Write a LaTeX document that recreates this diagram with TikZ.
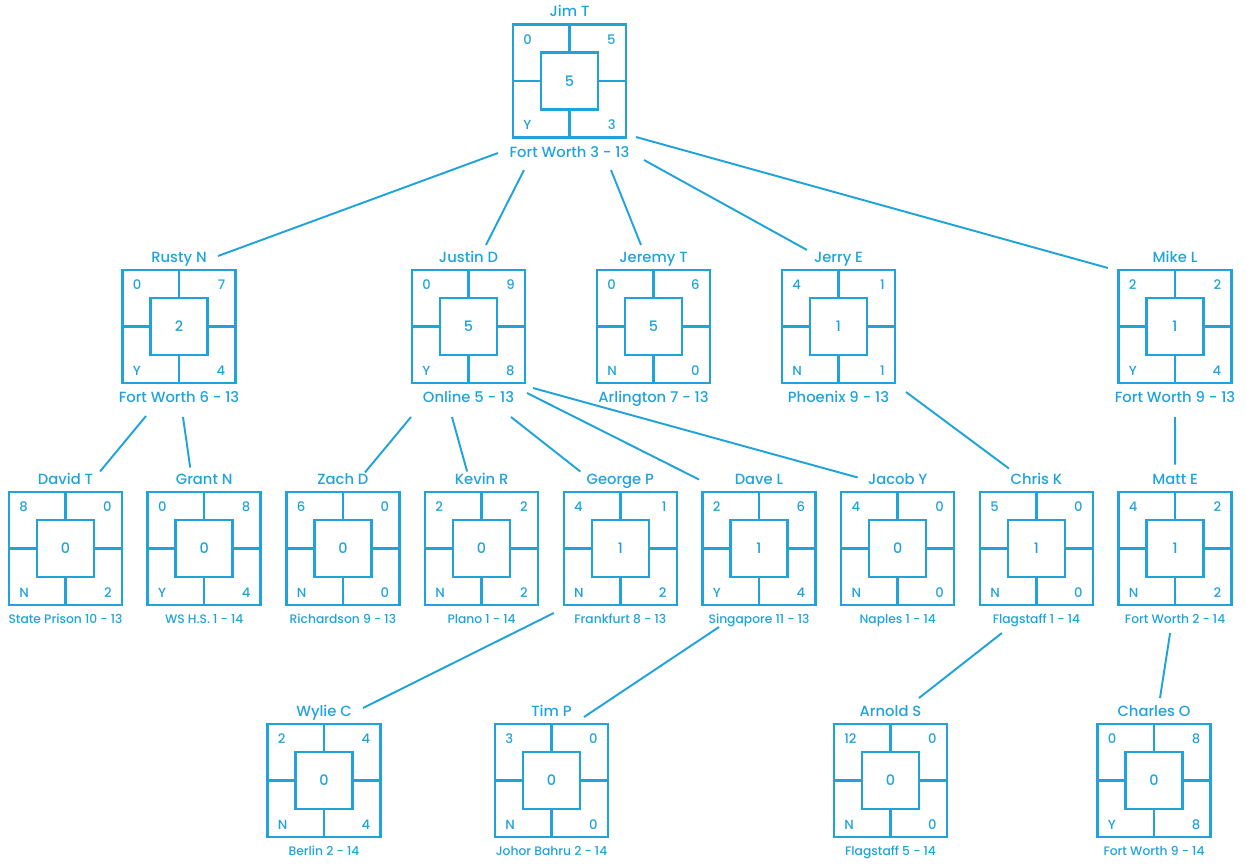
\documentclass[tikz,border=0pt]{standalone}
\usepackage{fontspec}
\newfontfamily\pfont{Poppins Medium}
\definecolor{treeblue}{RGB}{32,163,218}

% one player: id, position, name, place, corners (tl,tr,bl,br), middle
\newcommand{\player}[9]{%
  \node[outer] (#1) at (#2) {};
  \node[inner] (#1-c) at (#1.center) {#9};
  \draw[boxline] (#1.north)--(#1-c.north) (#1.south)--(#1-c.south)
                 (#1.west)--(#1-c.west) (#1.east)--(#1-c.east);
  \node[corner,anchor=west] at ([shift={(10,15)}]#1.north west) {#5};
  \node[corner,anchor=east] at ([shift={(-10,15)}]#1.north east) {#6};
  \node[corner,anchor=west] at ([shift={(10,-12.5)}]#1.south west) {#7};
  \node[corner,anchor=east] at ([shift={(-10,-12.5)}]#1.south east) {#8};
  \node[pname] (#1-n) at ([shift={(0,-12.5)}]#1.north) {#3};
  \node[place] (#1-p) at ([shift={(0,\placegap)}]#1.south) {#4};
}
\def\placegap{15}

\begin{document}
\begin{tikzpicture}[x=0.02cm,y=-0.02cm,
    outer/.style={draw=treeblue,line width=1.4pt,minimum size=113*0.02cm,inner sep=0pt,outer sep=0pt},
    inner/.style={draw=treeblue,line width=1.4pt,minimum size=57*0.02cm,inner sep=0pt,outer sep=0pt,
                  text=treeblue,font=\pfont\fontsize{8.2}{9}\selectfont},
    boxline/.style={treeblue,line width=1.4pt},
    corner/.style={text=treeblue,inner sep=0pt,font=\pfont\fontsize{7.5}{8}\selectfont},
    pname/.style={text=treeblue,inner sep=0pt,text height=1.5ex,text depth=.25ex,font=\pfont\fontsize{8.4}{9}\selectfont},
    place/.style={text=treeblue,inner sep=0pt,text height=1.5ex,text depth=.25ex,font=\pfont\fontsize{8.4}{9}\selectfont},
    link/.style={treeblue,line width=1.1pt}]
\useasboundingbox (0,0) rectangle (1247,863);

% top two rows
\player{jim}{569.5,81}{Jim T}{Fort Worth 3 - 13}{0}{5}{Y}{3}{5}
\player{rusty}{179,326.5}{Rusty N}{Fort Worth 6 - 13}{0}{7}{Y}{4}{2}
\player{justin}{468.5,326.5}{Justin D}{Online 5 - 13}{0}{9}{Y}{8}{5}
\player{jeremy}{653.5,326.5}{Jeremy T}{Arlington 7 - 13}{0}{6}{N}{0}{5}
\player{jerry}{838.5,326.5}{Jerry E}{Phoenix 9 - 13}{4}{1}{N}{1}{1}
\player{mike}{1175,326.5}{Mike L}{Fort Worth 9 - 13}{2}{2}{Y}{4}{1}

% lower rows, smaller place labels
\begin{scope}[place/.append style={font=\pfont\fontsize{7}{8}\selectfont}]
\def\placegap{13.5}
\player{david}{65.5,548.5}{David T}{State Prison 10 - 13}{8}{0}{N}{2}{0}
\player{grant}{204.2,548.5}{Grant N}{WS H.S. 1 - 14}{0}{8}{Y}{4}{0}
\player{zach}{342.9,548.5}{Zach D}{Richardson 9 - 13}{6}{0}{N}{0}{0}
\player{kevin}{481.6,548.5}{Kevin R}{Plano 1 - 14}{2}{2}{N}{2}{0}
\player{george}{620.3,548.5}{George P}{Frankfurt 8 - 13}{4}{1}{N}{2}{1}
\player{dave}{759,548.5}{Dave L}{Singapore 11 - 13}{2}{6}{Y}{4}{1}
\player{jacob}{897.7,548.5}{Jacob Y}{Naples 1 - 14}{4}{0}{N}{0}{0}
\player{chris}{1036.4,548.5}{Chris K}{Flagstaff 1 - 14}{5}{0}{N}{0}{1}
\player{matt}{1175.1,548.5}{Matt E}{Fort Worth 2 - 14}{4}{2}{N}{2}{1}

\player{wylie}{324,780.5}{Wylie C}{Berlin 2 - 14}{2}{4}{N}{4}{0}
\player{tim}{551.5,780.5}{Tim P}{Johor Bahru 2 - 14}{3}{0}{N}{0}{0}
\player{arnold}{890.5,780.5}{Arnold S}{Flagstaff 5 - 14}{12}{0}{N}{0}{0}
\player{charles}{1154,780.5}{Charles O}{Fort Worth 9 - 14}{0}{8}{Y}{8}{0}
\end{scope}

% connectors
\draw[link] ([shift={(-71.5,0.5)}]jim-p.center)--([shift={(39,-1.5)}]rusty-n.center);
\draw[link] ([shift={(-45.5,17.5)}]jim-p.center)--([shift={(17.5,-12.5)}]justin-n.center);
\draw[link] ([shift={(41.5,17.5)}]jim-p.center)--([shift={(-12.5,-12.5)}]jeremy-n.center);
\draw[link] ([shift={(74.5,7.5)}]jim-p.center)--([shift={(-31.5,-7.5)}]jerry-n.center);
\draw[link] ([shift={(66.5,-15.5)}]jim-p.center)--([shift={(-67,10.5)}]mike-n.center);

\draw[link] ([shift={(-33,18)}]rusty-p.center)--([shift={(34.5,-8)}]david-n.center);
\draw[link] ([shift={(4,19)}]rusty-p.center)--([shift={(-14,-12)}]grant-n.center);
\draw[link] ([shift={(-57.5,19)}]justin-p.center)--([shift={(22,-7)}]zach-n.center);
\draw[link] ([shift={(-16.5,19)}]justin-p.center)--([shift={(-14.5,-8)}]kevin-n.center);
\draw[link] ([shift={(42.5,19)}]justin-p.center)--([shift={(-40,-8)}]george-n.center);
\draw[link] ([shift={(58.5,-5)}]justin-p.center)--([shift={(-60,0)}]dave-n.center);
\draw[link] ([shift={(64.5,-10)}]justin-p.center)--([shift={(-40,-2)}]jacob-n.center);
\draw[link] ([shift={(67.5,-6)}]jerry-p.center)--([shift={(-27.5,-11)}]chris-n.center);
\draw[link] ([shift={(0,19)}]mike-p.center)--([shift={(0,-15)}]matt-n.center);

\draw[link] ([shift={(-66.5,-5.5)}]george-p.center)--([shift={(39,-3.5)}]wylie-n.center);
\draw[link] ([shift={(-40,8.5)}]dave-p.center)--([shift={(32.5,5.5)}]tim-n.center);
\draw[link] ([shift={(-34.5,14.5)}]chris-p.center)--([shift={(28.5,-13.5)}]arnold-n.center);
\draw[link] ([shift={(-5,14.5)}]matt-p.center)--([shift={(6,-13.5)}]charles-n.center);
\end{tikzpicture}
\end{document}
